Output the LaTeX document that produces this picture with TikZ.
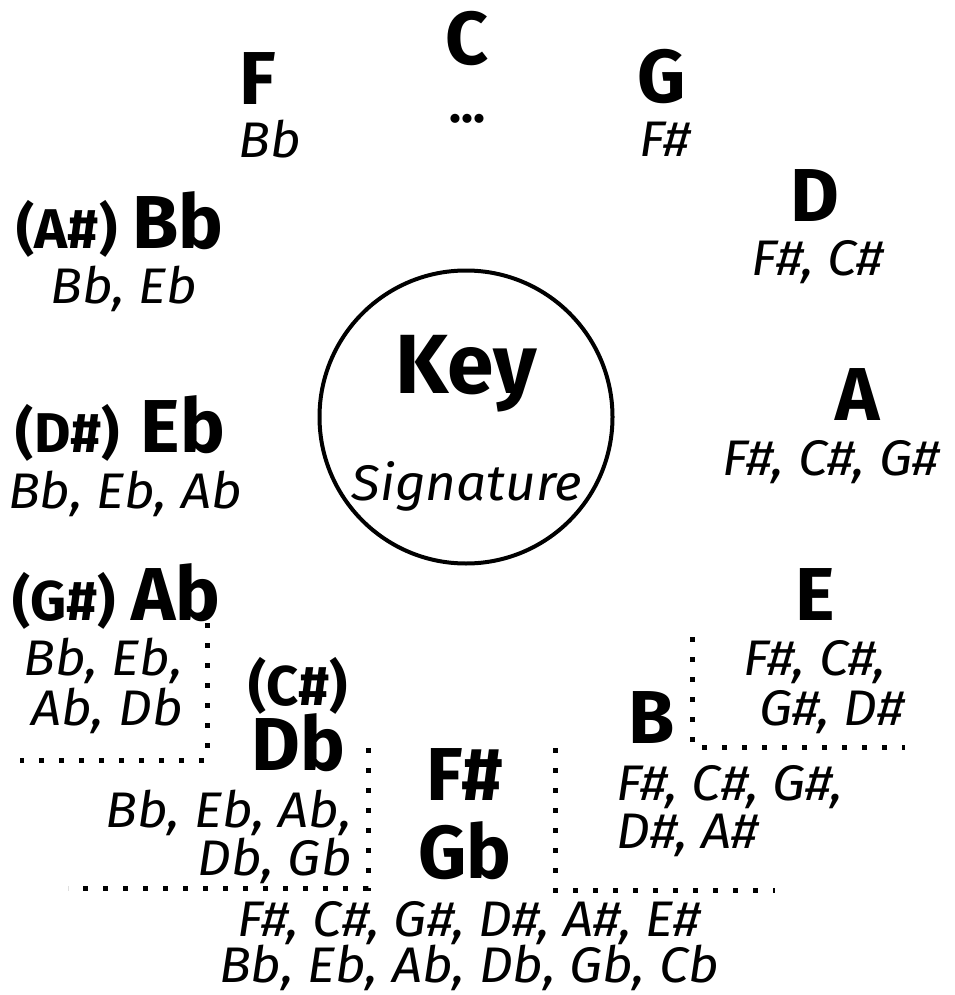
\documentclass[tikz,border=0pt]{standalone}
\usepackage{fontspec}
\setmainfont{Fira Sans}[ItalicFeatures={FakeStretch=1.06}]
\begin{document}
\begin{tikzpicture}[x=1pt,y=-1pt,
  big/.style={inner sep=0pt,font=\fontsize{75}{75}\selectfont\bfseries},
  par/.style={inner sep=0pt,font=\fontsize{56}{56}\selectfont\bfseries},
  sig/.style={inner sep=0pt,font=\fontsize{50}{50}\selectfont\itshape},
  dotline/.style={line width=5pt,dash pattern=on 5pt off 15pt}]
\useasboundingbox (0,0) rectangle (954,995);
% centre
\node[draw,circle,line width=4pt,minimum size=293pt,inner sep=0pt] (circ) at (466,417) {};
\node[inner sep=0pt,font=\fontsize{84}{84}\selectfont\bfseries,anchor=base] (key) at (466,393) {Key};
\node[sig,anchor=base] (signat) at (467,500) {Signature};
% C
\node[big,anchor=base] (C) at (467,65) {C};
\node[sig,anchor=base] (Cs) at (467,123) {\bfseries\upshape ...};
% F
\node[big,anchor=base] (F) at (258,105) {F};
\node[sig,anchor=base] (Fs) at (270,158) {Bb};
% G
\node[big,anchor=base] (G) at (662,103) {G};
\node[sig,anchor=base] (Gs) at (665,157) {F\#};
% D
\node[big,anchor=base] (D) at (815,222) {D};
\node[sig,anchor=base] (Ds) at (818,275) {F\#, C\#};
% Bb
\node[big,anchor=base] (Bb) at (178,248) {Bb};
\node[par,anchor=base] (Bbp) at (67,248) {(A\#)};
\node[sig,anchor=base] (Bbs) at (124,303) {Bb, Eb};
% A
\node[big,anchor=base] (A) at (858,420) {A};
\node[sig,anchor=base] (As) at (831,475) {F\#, C\#, G\#};
% Eb
\node[big,anchor=base] (Eb) at (183,452) {Eb};
\node[par,anchor=base] (Ebp) at (68,452) {(D\#)};
\node[sig,anchor=base] (Ebs) at (125,508) {Bb, Eb, Ab};
% E
\node[big,anchor=base] (E) at (815,620) {E};
\node[sig,anchor=base] (Es1) at (815,675) {F\#, C\#,};
\node[sig,anchor=base] (Es2) at (832,725) {G\#, D\#};
\coordinate (e1) at (692,637);
\coordinate (e2) at (692,747);
\coordinate (e3) at (905,747);
\draw[dotline] (e1) -- (e2) -- (e3);
% B
\node[big,anchor=base] (B) at (652,743) {B};
\node[sig,anchor=base west] (Bs1) at (616,800) {F\#, C\#, G\#,};
\node[sig,anchor=base west] (Bs2) at (616,848) {D\#, A\#};
\coordinate (b1) at (555,748);
\coordinate (b2) at (555,890);
\coordinate (b3) at (775,890);
\draw[dotline] (b1) -- (b2) -- (b3);
% Ab
\node[big,anchor=base] (Ab) at (176,620) {Ab};
\node[par,anchor=base] (Abp) at (64,620) {(G\#)};
\node[sig,anchor=base east] (Abs1) at (183,675) {Bb, Eb,};
\node[sig,anchor=base east] (Abs2) at (183,725) {Ab, Db};
\coordinate (a1) at (207,623);
\coordinate (a2) at (207,760);
\coordinate (a3) at (20,760);
\draw[dotline] (a1) -- (a2) -- (a3);
% Db
\node[par,anchor=base] (Dbp) at (298,705) {(C\#)};
\node[big,anchor=base] (Db) at (298,770) {Db};
\node[sig,anchor=base east] (Dbs1) at (352,827) {Bb, Eb, Ab,};
\node[sig,anchor=base east] (Dbs2) at (352,875) {Db, Gb};
\coordinate (d1) at (368,748);
\coordinate (d2) at (368,888);
\coordinate (d3) at (68,888);
\draw[dotline] (d1) -- (d2) -- (d3);
% F# / Gb
\node[big,anchor=base] (Fsh) at (465,800) {F\#};
\node[big,anchor=base] (Gb) at (465,878) {Gb};
\node[sig,anchor=base] (Fshs1) at (469,936) {F\#, C\#, G\#, D\#, A\#, E\#};
\node[sig,anchor=base] (Fshs2) at (469,982) {Bb, Eb, Ab, Db, Gb, Cb};
\end{tikzpicture}
\end{document}
